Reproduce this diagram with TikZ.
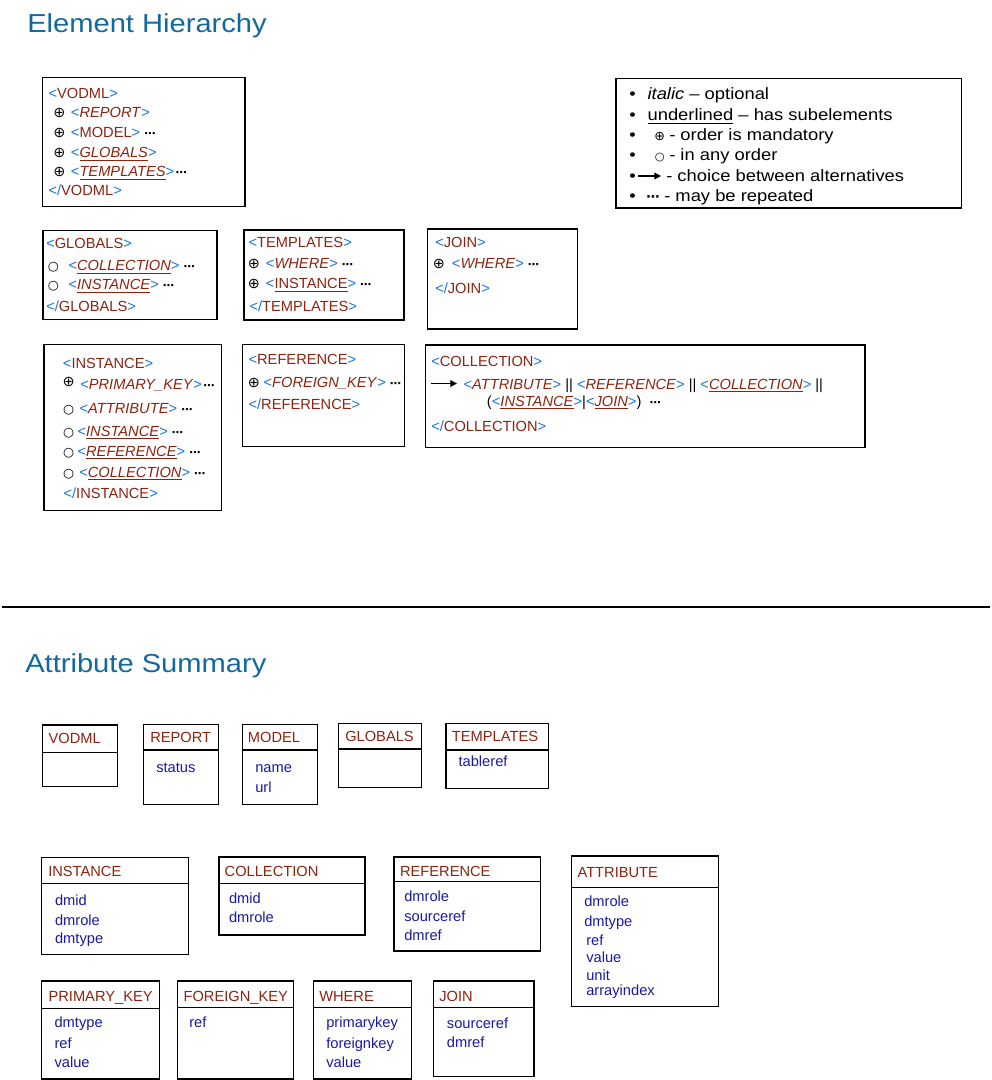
\documentclass[tikz,border=0pt]{standalone}
\usepackage{fontspec}
\setmainfont{Liberation Sans}
\newfontfamily\symfont{DejaVu Sans}
\newfontfamily\headfont[FakeStretch=1.12]{Liberation Sans}
\newfontfamily\legfont[FakeStretch=1.12]{Liberation Sans}
\usetikzlibrary{arrows.meta,fit}
\definecolor{tagblue}{RGB}{25,115,220}
\definecolor{tagred}{RGB}{140,35,15}
\definecolor{attrblue}{RGB}{25,25,165}
\definecolor{headblue}{RGB}{18,104,160}
\newcommand\ot[1]{\textcolor{tagblue}{<}\textcolor{tagred}{#1}\textcolor{tagblue}{>}}
\newcommand\ct[1]{\textcolor{tagblue}{</}\textcolor{tagred}{#1}\textcolor{tagblue}{>}}
\newcommand\undl[1]{\underline{#1}}
\newcommand\rep{{\symfont\bfseries\fontsize{8.5}{10}\selectfont ⋯}}
\newcommand\repl{{\symfont\bfseries\fontsize{10}{10}\selectfont ⋯}}
\newcommand\osym{{\symfont\fontsize{10.8}{11}\selectfont ⊕}}
\newcommand\csym{{\symfont\fontsize{9.5}{10}\selectfont ○}}
\newcommand\osyml{{\symfont\fontsize{9.5}{10}\selectfont ⊕}}
\newcommand\csyml{{\symfont\fontsize{8.5}{9}\selectfont ○}}
\newcommand\abox[9]{%
  \node[abox, fit={(#2,#3) (#4,#5)}] (#1) {};
  \draw[sepline] (#1.west |- 0,#6) -- (#1.east |- 0,#6);
  \node[atitle] (#1-t) at (#7,#8) {#9};
}
\tikzset{
  box/.style={draw=black, line width=0.9pt, inner sep=0pt},
  abox/.style={draw=black, line width=0.85pt, inner sep=0pt},
  sepline/.style={line width=0.85pt},
  t/.style={anchor=base west, inner sep=0pt, font=\fontsize{11}{13}\selectfont},
  sym/.style={anchor=base, inner sep=0pt},
  atitle/.style={anchor=base west, inner sep=0pt, text=tagred, font=\fontsize{11}{13}\selectfont},
  attr/.style={anchor=base west, inner sep=0pt, text=attrblue, font=\fontsize{11}{13}\selectfont},
  leg/.style={anchor=base west, inner sep=0pt, font=\legfont\fontsize{12.3}{14}\selectfont},
  head/.style={anchor=base west, inner sep=0pt, text=headblue, font=\headfont\fontsize{19.5}{22}\selectfont},
  arr/.style={line width=0.9pt, -{Triangle[length=5pt,width=5pt]}},
}
\begin{document}
\begin{tikzpicture}[x=0.75pt,y=-0.75pt]
\useasboundingbox (0,0) rectangle (991,1080);
% titles
\node[head] (h1) at (27,32.5) {Element Hierarchy};
\node[head] (h2) at (25,672) {Attribute Summary};
\coordinate (sepL) at (2,607);
\coordinate (sepR) at (990,607);
\draw[line width=1.9pt] (sepL) -- (sepR);

% VODML box
\node[box, fit={(42.7,77.7) (245,206.7)}] (bVODML) {};
\node[t] (v1) at (48.3,99) {\ot{VODML}};
\node[sym] (v2s) at (59.5,118) {\osym};
\node[t] (v2) at (70.7,118) {\ot{\textit{REPORT}}};
\node[sym] (v3s) at (59.5,138) {\osym};
\node[t] (v3) at (70.7,138) {\ot{MODEL} \rep};
\node[sym] (v4s) at (59.5,158) {\osym};
\node[t] (v4) at (70.7,158) {\ot{\undl{\textit{GLOBALS}}}};
\node[sym] (v5s) at (59.5,177) {\osym};
\node[t] (v5) at (70.7,177) {\ot{\undl{\textit{TEMPLATES}}}\kern1pt\rep};
\node[t] (v6) at (48.3,196) {\ct{VODML}};

% GLOBALS box
\node[box, fit={(43,230.5) (217,319.5)}] (bGLOBALS) {};
\node[t] (g1) at (46,249) {\ot{GLOBALS}};
\node[sym] (g2s) at (53.3,271) {\csym};
\node[t] (g2) at (68.3,271) {\ot{\undl{\textit{COLLECTION}}}\ \rep};
\node[sym] (g3s) at (53.3,290) {\csym};
\node[t] (g3) at (68.3,290) {\ot{\undl{\textit{INSTANCE}}}\ \rep};
\node[t] (g4) at (46,311) {\ct{GLOBALS}};

% TEMPLATES box
\node[box, fit={(244,230) (404,320)}] (bTEMPLATES) {};
\node[t] (tp1) at (248.3,248) {\ot{TEMPLATES}};
\node[sym] (tp2s) at (254,269) {\osym};
\node[t] (tp2) at (265.7,269) {\ot{\textit{WHERE}}\ \rep};
\node[sym] (tp3s) at (254,289) {\osym};
\node[t] (tp3) at (265.7,289) {\ot{\undl{INSTANCE}}\ \rep};
\node[t] (tp4) at (249.3,311) {\ct{TEMPLATES}};

% JOIN box
\node[box, fit={(427.3,229) (577.3,329)}] (bJOIN) {};
\node[t] (j1) at (435,248) {\ot{JOIN}};
\node[sym] (j2s) at (439,269) {\osym};
\node[t] (j2) at (451.7,269) {\ot{\textit{WHERE}}\ \rep};
\node[t] (j3) at (435,294) {\ct{JOIN}};

% INSTANCE box
\node[box, fit={(44,344.3) (221.7,510.7)}] (bINSTANCE) {};
\node[t] (i1) at (62.7,368) {\ot{INSTANCE}};
\node[sym] (i2s) at (68.7,386.5) {\osym};
\node[t] (i2) at (80,389) {\ot{\textit{PRIMARY\_KEY}}\kern1pt\rep};
\node[sym] (i3s) at (68.7,413) {\csym};
\node[t] (i3) at (79.3,413) {\ot{\textit{ATTRIBUTE}}\ \rep};
\node[sym] (i4s) at (68.7,436) {\csym};
\node[t] (i4) at (77.3,436) {\ot{\undl{\textit{INSTANCE}}}\ \rep};
\node[sym] (i5s) at (68.7,456) {\csym};
\node[t] (i5) at (77.3,456) {\ot{\undl{\textit{REFERENCE}}}\ \rep};
\node[sym] (i6s) at (68.7,477) {\csym};
\node[t] (i6) at (79,477) {\ot{\undl{\textit{COLLECTION}}}\ \rep};
\node[t] (i7) at (63.3,498) {\ct{INSTANCE}};

% REFERENCE box
\node[box, fit={(242.3,344.3) (404.3,446.7)}] (bREFERENCE) {};
\node[t] (r1) at (248.3,364) {\ot{REFERENCE}};
\node[sym] (r2s) at (254,387) {\osym};
\node[t] (r2) at (263.3,387) {\ot{\textit{FOREIGN\_KEY}}\ \rep};
\node[t] (r3) at (248.3,409) {\ct{REFERENCE}};

% COLLECTION box
\node[box, fit={(425.7,345) (865,447.3)}] (bCOLLECTION) {};
\node[t] (c1) at (431,366) {\ot{COLLECTION}};
\coordinate (ca) at (431,383.5);
\coordinate (cb) at (457,383.5);
\draw[arr] (ca) -- (cb);
\node[t] (c2) at (463.3,389) {\ot{\textit{ATTRIBUTE}} || \ot{\textit{REFERENCE}} || \ot{\undl{\textit{COLLECTION}}} ||};
\node[t] (c3) at (486.7,406.7) {(\ot{\undl{\textit{INSTANCE}}}|\ot{\undl{\textit{JOIN}}})\ \ \rep};
\node[t] (c4) at (431,431) {\ct{COLLECTION}};

% Legend
\node[box, fit={(616,78.5) (961.5,208)}] (bLEGEND) {};
\node[leg] (l1b) at (629,100) {•};
\node[leg] (l1) at (647.3,100) {\textit{italic} – optional};
\node[leg] (l2b) at (629,121) {•};
\node[leg] (l2) at (647.3,121) {\underline{underlined} – has subelements};
\node[leg] (l3b) at (629,141) {•};
\node[sym] (l3s) at (659.7,141) {\osyml};
\node[leg] (l3) at (669,141) {- order is mandatory};
\node[leg] (l4b) at (629,161) {•};
\node[sym] (l4s) at (659.7,161) {\csyml};
\node[leg] (l4) at (669,161) {- in any order};
\node[leg] (l5b) at (629,182) {•};
\coordinate (la) at (638,176);
\coordinate (lb) at (661,176);
\draw[arr] (la) -- (lb);
\node[leg] (l5) at (666,182) {- choice between alternatives};
\node[leg] (l6b) at (629,202) {•};
\node[leg] (l6d) at (646,202) {\repl};
\node[leg] (l6) at (664,202) {- may be repeated};

% Attribute summary row 1
\abox{aVODML}{42.3}{725}{117.3}{786.7}{752.3}{48.3}{743}{VODML}
\abox{aREPORT}{143.3}{724.3}{218.3}{804.3}{750}{150}{742.7}{REPORT}
\node[attr] (aREPORT-1) at (156,772) {status};
\abox{aMODEL}{242.3}{724.3}{317.7}{804.3}{750}{247.7}{742.7}{MODEL}
\node[attr] (aMODEL-1) at (255,772.3) {name};
\node[attr] (aMODEL-2) at (255,792.7) {url};
\abox{aGLOBALS}{338.3}{723.3}{421.7}{787.3}{749}{345}{741.7}{GLOBALS}
\abox{aTEMPLATES}{446}{723.3}{548.3}{788.3}{750}{451.7}{741.7}{TEMPLATES}
\node[attr] (aTEMPLATES-1) at (458.3,766) {tableref};

% row 2
\abox{aINSTANCE}{41.6}{857.3}{188.3}{954.3}{883.3}{48}{876}{INSTANCE}
\node[attr] (aINSTANCE-1) at (54.8,905) {dmid};
\node[attr] (aINSTANCE-2) at (54.8,925) {dmrole};
\node[attr] (aINSTANCE-3) at (54.8,943.5) {dmtype};
\abox{aCOLLECTION}{219}{857}{365}{935}{883.3}{224.4}{876}{COLLECTION}
\node[attr] (aCOLLECTION-1) at (228.8,903.3) {dmid};
\node[attr] (aCOLLECTION-2) at (228.8,922.7) {dmrole};
\abox{aREFERENCE}{394}{857}{540.7}{951}{881.7}{399.8}{876}{REFERENCE}
\node[attr] (aREFERENCE-1) at (404,901.7) {dmrole};
\node[attr] (aREFERENCE-2) at (404,921.7) {sourceref};
\node[attr] (aREFERENCE-3) at (404,940.7) {dmref};
\abox{aATTRIBUTE}{571.7}{856}{718.3}{1006.7}{887.7}{577.3}{877}{ATTRIBUTE}
\node[attr] (aATTRIBUTE-1) at (584,906.7) {dmrole};
\node[attr] (aATTRIBUTE-2) at (584,926.7) {dmtype};
\node[attr] (aATTRIBUTE-3) at (586,945) {ref};
\node[attr] (aATTRIBUTE-4) at (586,962.3) {value};
\node[attr] (aATTRIBUTE-5) at (586,980) {unit};
\node[attr] (aATTRIBUTE-6) at (586,995) {arrayindex};

% row 3
\abox{aPK}{41.7}{981}{159.3}{1079}{1008.3}{48.3}{1001}{PRIMARY\_KEY}
\node[attr] (aPK-1) at (54.3,1027.3) {dmtype};
\node[attr] (aPK-2) at (54.3,1048.3) {ref};
\node[attr] (aPK-3) at (54.3,1067.3) {value};
\abox{aFK}{177.3}{981}{293.3}{1079}{1007.3}{183.3}{1001}{FOREIGN\_KEY}
\node[attr] (aFK-1) at (189,1027.3) {ref};
\abox{aWHERE}{313.3}{981}{411.7}{1079}{1007.3}{319}{1001}{WHERE}
\node[attr] (aWHERE-1) at (326,1027.3) {primarykey};
\node[attr] (aWHERE-2) at (326,1048.3) {foreignkey};
\node[attr] (aWHERE-3) at (326,1067.3) {value};
\abox{aJOIN}{433.3}{981}{534}{1076.7}{1007.3}{439}{1001}{JOIN}
\node[attr] (aJOIN-1) at (446.7,1028.3) {sourceref};
\node[attr] (aJOIN-2) at (446.7,1047.3) {dmref};
\end{tikzpicture}
\end{document}
